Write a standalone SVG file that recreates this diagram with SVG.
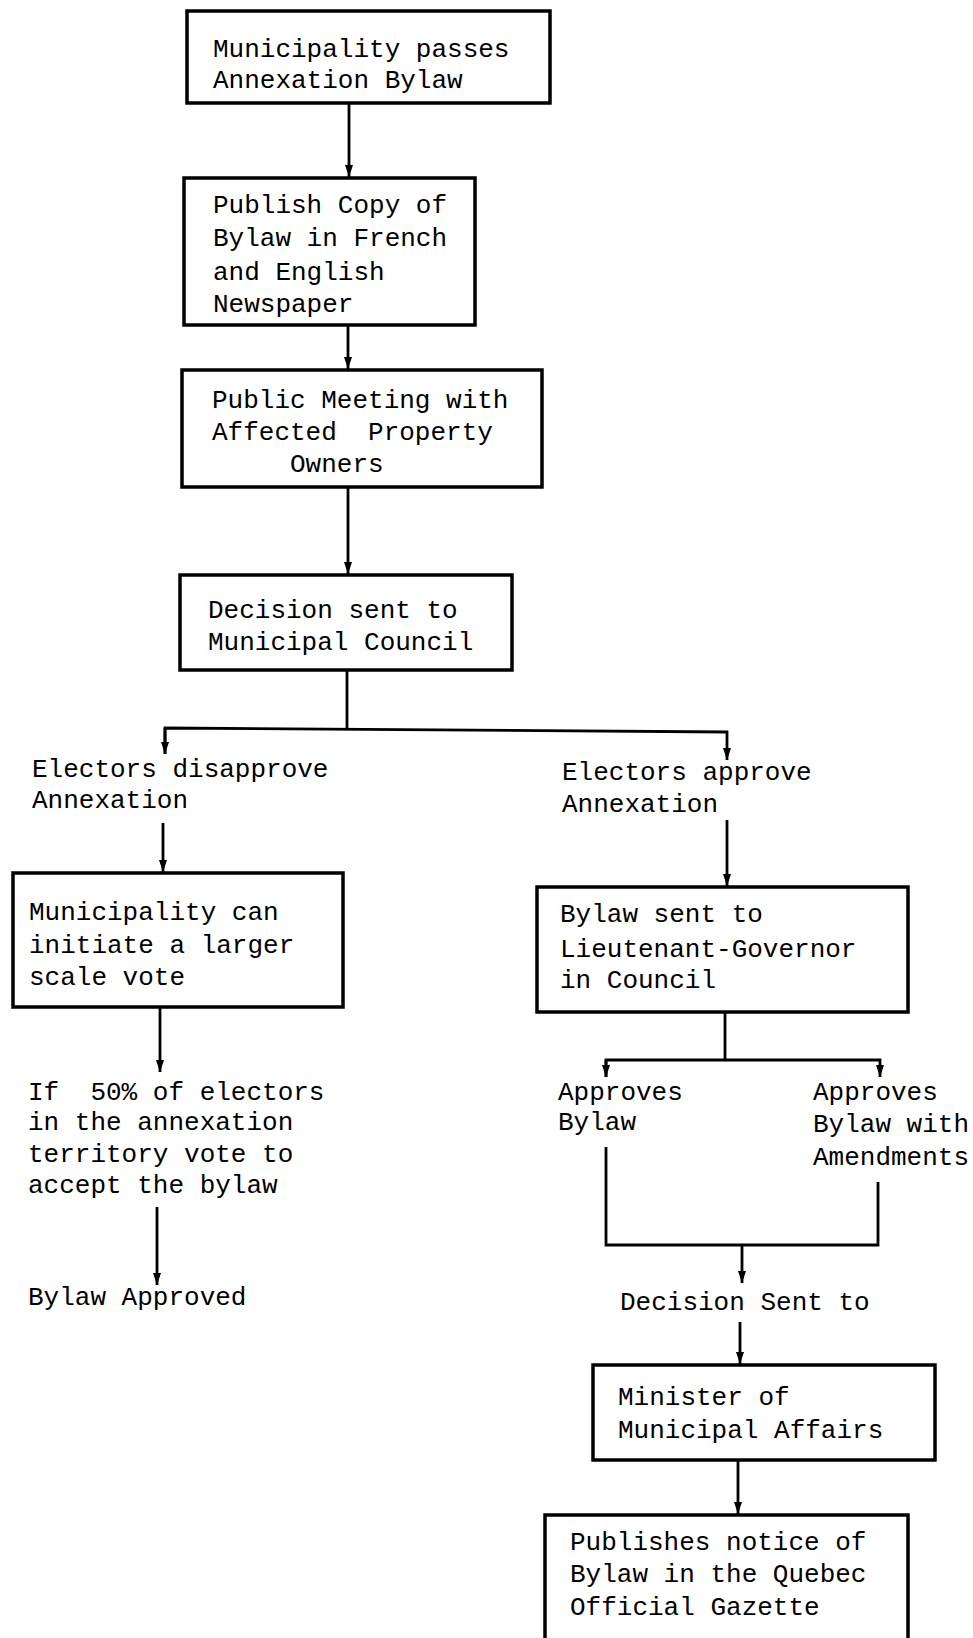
<svg xmlns="http://www.w3.org/2000/svg" width="973" height="1638" viewBox="0 0 973 1638">
  <style>
    .box { fill: #fff; stroke: #000; stroke-width: 3.5; }
    .lbl { font-family: "Liberation Mono", "DejaVu Sans Mono", monospace; font-size: 26px; fill: #000; white-space: pre; }
    .wire { fill: none; stroke: #000; stroke-width: 2.8; stroke-linejoin: miter; }
  </style>
  <defs>
    <marker id="arrow" markerUnits="userSpaceOnUse" markerWidth="13" markerHeight="9" refX="12" refY="4.5" orient="auto">
      <path d="M0,0.5 L12,4.5 L0,8.5 z" fill="#000"/>
    </marker>
  </defs>
  <rect width="973" height="1638" fill="#fff"/>

  <g id="connectors">
    <path class="wire" d="M349,103 V177" marker-end="url(#arrow)"/>
    <path class="wire" d="M348,325 V369" marker-end="url(#arrow)"/>
    <path class="wire" d="M348,487 V574" marker-end="url(#arrow)"/>
    <path class="wire" d="M347,670 V729"/>
    <path class="wire" d="M165,754 V728 L727,732 V760" marker-end="url(#arrow)"/>
    <path class="wire" d="M165,728 V754" marker-end="url(#arrow)"/>
    <path class="wire" d="M163,823 V872" marker-end="url(#arrow)"/>
    <path class="wire" d="M727,820 V886" marker-end="url(#arrow)"/>
    <path class="wire" d="M160,1007 V1072" marker-end="url(#arrow)"/>
    <path class="wire" d="M157,1207 V1285" marker-end="url(#arrow)"/>
    <path class="wire" d="M725,1012 V1060"/>
    <path class="wire" d="M606,1077 V1060 H880 V1077" marker-end="url(#arrow)"/>
    <path class="wire" d="M606,1060 V1077" marker-end="url(#arrow)"/>
    <path class="wire" d="M606,1147 V1245 H878 V1182"/>
    <path class="wire" d="M742,1245 V1283" marker-end="url(#arrow)"/>
    <path class="wire" d="M740,1322 V1364" marker-end="url(#arrow)"/>
    <path class="wire" d="M738,1460 V1514" marker-end="url(#arrow)"/>
  </g>

  <g id="passes-bylaw">
    <rect class="box" x="187" y="11" width="363" height="92"/>
    <text class="lbl" x="213" y="57">Municipality passes</text>
    <text class="lbl" x="213" y="88">Annexation Bylaw</text>
  </g>

  <g id="publish-copy">
    <rect class="box" x="184" y="178" width="291" height="147"/>
    <text class="lbl" x="213" y="213">Publish Copy of</text>
    <text class="lbl" x="213" y="246">Bylaw in French</text>
    <text class="lbl" x="213" y="280">and English</text>
    <text class="lbl" x="213" y="312">Newspaper</text>
  </g>

  <g id="public-meeting">
    <rect class="box" x="182" y="370" width="360" height="117"/>
    <text class="lbl" x="212" y="408">Public Meeting with</text>
    <text class="lbl" x="212" y="440" xml:space="preserve">Affected  Property</text>
    <text class="lbl" x="290" y="472">Owners</text>
  </g>

  <g id="decision-council">
    <rect class="box" x="180" y="575" width="332" height="95"/>
    <text class="lbl" x="208" y="618">Decision sent to</text>
    <text class="lbl" x="208" y="650">Municipal Council</text>
  </g>

  <g id="electors-disapprove">
    <text class="lbl" x="32" y="777">Electors disapprove</text>
    <text class="lbl" x="32" y="808">Annexation</text>
  </g>

  <g id="electors-approve">
    <text class="lbl" x="562" y="780">Electors approve</text>
    <text class="lbl" x="562" y="812">Annexation</text>
  </g>

  <g id="larger-vote">
    <rect class="box" x="13" y="873" width="330" height="134"/>
    <text class="lbl" x="29" y="920">Municipality can</text>
    <text class="lbl" x="29" y="953">initiate a larger</text>
    <text class="lbl" x="29" y="985">scale vote</text>
  </g>

  <g id="lieutenant-governor">
    <rect class="box" x="537" y="887" width="371" height="125"/>
    <text class="lbl" x="560" y="922">Bylaw sent to</text>
    <text class="lbl" x="560" y="957">Lieutenant-Governor</text>
    <text class="lbl" x="560" y="988">in Council</text>
  </g>

  <g id="fifty-percent">
    <text class="lbl" x="28" y="1100" xml:space="preserve">If  50% of electors</text>
    <text class="lbl" x="28" y="1130">in the annexation</text>
    <text class="lbl" x="28" y="1162">territory vote to</text>
    <text class="lbl" x="28" y="1193">accept the bylaw</text>
  </g>

  <g id="bylaw-approved">
    <text class="lbl" x="28" y="1305">Bylaw Approved</text>
  </g>

  <g id="approves-bylaw">
    <text class="lbl" x="558" y="1100">Approves</text>
    <text class="lbl" x="558" y="1130">Bylaw</text>
  </g>

  <g id="approves-amended">
    <text class="lbl" x="813" y="1100">Approves</text>
    <text class="lbl" x="813" y="1132">Bylaw with</text>
    <text class="lbl" x="813" y="1165">Amendments</text>
  </g>

  <g id="decision-sent">
    <text class="lbl" x="620" y="1310">Decision Sent to</text>
  </g>

  <g id="minister">
    <rect class="box" x="593" y="1365" width="342" height="95"/>
    <text class="lbl" x="618" y="1405">Minister of</text>
    <text class="lbl" x="618" y="1438">Municipal Affairs</text>
  </g>

  <g id="gazette">
    <rect class="box" x="545" y="1515" width="363" height="125"/>
    <text class="lbl" x="570" y="1550">Publishes notice of</text>
    <text class="lbl" x="570" y="1582">Bylaw in the Quebec</text>
    <text class="lbl" x="570" y="1615">Official Gazette</text>
  </g>
</svg>
